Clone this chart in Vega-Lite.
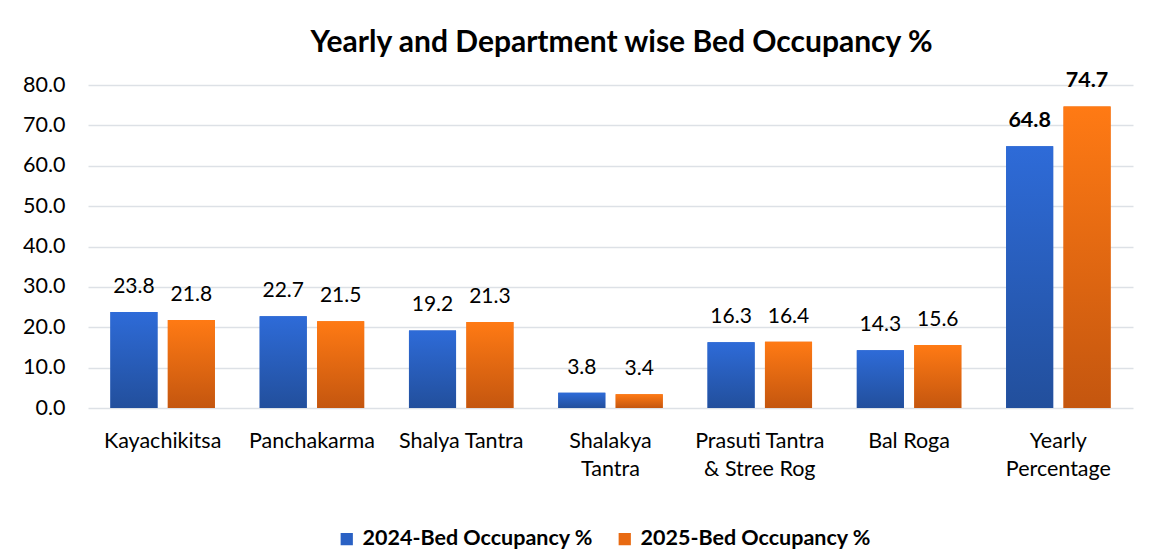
{
  "$schema": "https://vega.github.io/schema/vega-lite/v6.json",
  "autosize": {"type": "none"},
  "padding": {"left": 88, "top": 85, "right": 22, "bottom": 149},
  "width": 1045,
  "height": 323,
  "background": "white",
  "title": {
    "text": "Yearly and Department wise Bed Occupancy %",
    "font": "Lato",
    "fontSize": 30,
    "fontWeight": "bold",
    "color": "#000000",
    "anchor": "middle",
    "dx": 11,
    "offset": 12
  },
  "config": {
    "font": "Lato",
    "view": {"stroke": null}
  },
  "data": {
    "values": [
      {"dept": "Kayachikitsa", "series": "2024-Bed Occupancy %", "value": 23.8},
      {"dept": "Kayachikitsa", "series": "2025-Bed Occupancy %", "value": 21.8},
      {"dept": "Panchakarma", "series": "2024-Bed Occupancy %", "value": 22.7},
      {"dept": "Panchakarma", "series": "2025-Bed Occupancy %", "value": 21.5},
      {"dept": "Shalya Tantra", "series": "2024-Bed Occupancy %", "value": 19.2},
      {"dept": "Shalya Tantra", "series": "2025-Bed Occupancy %", "value": 21.3},
      {"dept": "Shalakya Tantra", "series": "2024-Bed Occupancy %", "value": 3.8},
      {"dept": "Shalakya Tantra", "series": "2025-Bed Occupancy %", "value": 3.4},
      {"dept": "Prasuti Tantra & Stree Rog", "series": "2024-Bed Occupancy %", "value": 16.3},
      {"dept": "Prasuti Tantra & Stree Rog", "series": "2025-Bed Occupancy %", "value": 16.4},
      {"dept": "Bal Roga", "series": "2024-Bed Occupancy %", "value": 14.3},
      {"dept": "Bal Roga", "series": "2025-Bed Occupancy %", "value": 15.6},
      {"dept": "Yearly Percentage", "series": "2024-Bed Occupancy %", "value": 64.8},
      {"dept": "Yearly Percentage", "series": "2025-Bed Occupancy %", "value": 74.7}
    ]
  },
  "encoding": {
    "x": {
      "field": "dept",
      "type": "nominal",
      "sort": null,
      "scale": {"paddingInner": 0.3, "paddingOuter": 0.15},
      "axis": {
        "title": null,
        "labelAngle": 0,
        "labelFont": "Lato",
        "labelFontSize": 21.5,
        "labelColor": "#000000",
        "labelPadding": 33,
        "labelLineHeight": 28,
        "labelBaseline": "middle",
        "ticks": false,
        "domain": false,
        "labelExpr": "datum.label == 'Shalakya Tantra' ? ['Shalakya', 'Tantra'] : datum.label == 'Prasuti Tantra & Stree Rog' ? ['Prasuti Tantra', '& Stree Rog'] : datum.label == 'Yearly Percentage' ? ['Yearly', 'Percentage'] : datum.label"
      }
    },
    "xOffset": {
      "field": "series",
      "type": "nominal",
      "scale": {"paddingInner": 0.18, "paddingOuter": 0}
    },
    "y": {
      "field": "value",
      "type": "quantitative",
      "scale": {"domain": [0, 80], "nice": false},
      "axis": {
        "title": null,
        "values": [0, 10, 20, 30, 40, 50, 60, 70, 80],
        "format": ".1f",
        "labelFont": "Lato",
        "labelFontSize": 21.5,
        "labelColor": "#000000",
        "labelPadding": 23,
        "ticks": false,
        "domain": false,
        "grid": true,
        "gridColor": "#dde1e6",
        "gridWidth": 1.5
      }
    }
  },
  "layer": [
    {
      "mark": {"type": "bar"},
      "encoding": {
        "color": {
          "field": "series",
          "type": "nominal",
          "scale": {"range": ["#2a61c4", "#e86a12"]},
          "legend": {
            "title": null,
            "orient": "none",
            "direction": "horizontal",
            "legendX": 248,
            "legendY": 443,
            "symbolType": "square",
            "symbolSize": 150,
            "symbolStrokeWidth": 0,
            "labelFont": "Lato",
            "labelFontSize": 21.5,
            "labelFontWeight": "bold",
            "labelColor": "#000000",
            "labelOffset": 5,
            "columnPadding": 20,
            "labelLimit": 400
          }
        }
      }
    },
    {
      "transform": [{"filter": "datum.series == '2024-Bed Occupancy %'"}],
      "mark": {
        "type": "bar",
        "color": {
          "gradient": "linear", "x1": 0, "y1": 0, "x2": 0, "y2": 1,
          "stops": [{"offset": 0, "color": "#2e6bd8"}, {"offset": 1, "color": "#224f9c"}]
        }
      }
    },
    {
      "transform": [{"filter": "datum.series == '2025-Bed Occupancy %'"}],
      "mark": {
        "type": "bar",
        "color": {
          "gradient": "linear", "x1": 0, "y1": 0, "x2": 0, "y2": 1,
          "stops": [{"offset": 0, "color": "#ff7a14"}, {"offset": 1, "color": "#c4560f"}]
        }
      }
    },
    {
      "transform": [{"filter": "datum.dept != 'Yearly Percentage'"}],
      "mark": {"type": "text", "baseline": "middle", "dy": -25, "color": "#000000", "font": "Lato", "fontSize": 21},
      "encoding": {
        "text": {"field": "value", "type": "quantitative", "format": ".1f"}
      }
    },
    {
      "transform": [{"filter": "datum.dept == 'Yearly Percentage'"}],
      "mark": {"type": "text", "baseline": "middle", "dy": -25, "color": "#000000", "font": "Lato", "fontSize": 21.5, "fontWeight": "bold"},
      "encoding": {
        "text": {"field": "value", "type": "quantitative", "format": ".1f"}
      }
    }
  ]
}
